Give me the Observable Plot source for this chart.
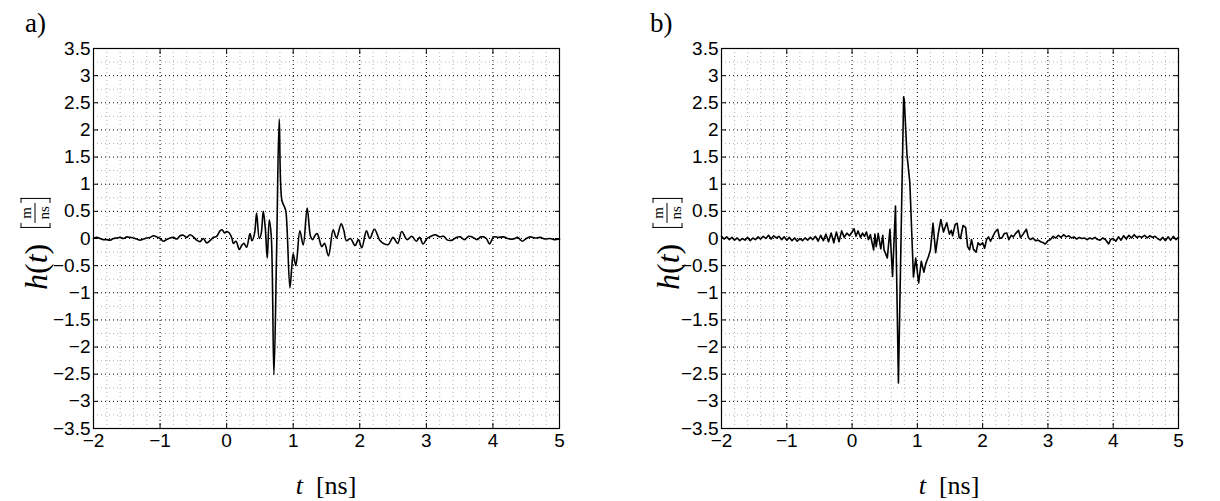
<!DOCTYPE html>
<html><head><meta charset="utf-8">
<script src="https://cdn.jsdelivr.net/npm/d3@7"></script>
<script src="https://cdn.jsdelivr.net/npm/@observablehq/plot@0.6"></script>
<style>
html,body{margin:0;padding:0;background:#fff;}
#wrap{position:relative;width:1220px;height:501px;overflow:hidden;}
.panel{position:absolute;top:0;}
.panel svg text{font-size:19px !important;font-family:"Liberation Sans",Arial,sans-serif !important;fill:#000;}
.plab{position:absolute;top:10px;font-family:"Liberation Serif","Times New Roman",serif;font-size:27px;line-height:1;}
.xlab{position:absolute;top:473px;font-family:"Liberation Serif","Times New Roman",serif;font-size:26px;line-height:1;transform:translate(-50%,0);white-space:nowrap;}
.ylab{position:absolute;font-family:"Liberation Serif","Times New Roman",serif;font-size:32px;line-height:1;white-space:nowrap;transform:translate(-50%,-50%) rotate(-90deg);display:flex;align-items:center;}
.ylab .gap{display:inline-block;width:16px;}
.bl,.brk{display:inline-block;width:4px;height:28px;border-top:1px solid #000;border-bottom:1px solid #000;}
.bl{border-left:1px solid #000;margin-right:2px;}
.brk{border-right:1px solid #000;margin-left:2px;}
.frac{display:inline-flex;flex-direction:column;align-items:center;font-size:15px;line-height:1;}
.frac .num{border-bottom:1px solid #000;padding:0 2px 1px;width:100%;text-align:center;}
.frac .den{padding-top:1px;}
</style>
</head><body>
<div id="wrap"></div>
<script>
// axis ticks and labels
const xTicks = [-2, -1, 0, 1, 2, 3, 4, 5];
const xTickLabels = ["\u22122", "\u22121", "0", "1", "2", "3", "4", "5"];
const yTicks = [-3.5, -3, -2.5, -2, -1.5, -1, -0.5, 0, 0.5, 1, 1.5, 2, 2.5, 3, 3.5];
const yTickLabels = ["\u22123.5", "\u22123", "\u22122.5", "\u22122", "\u22121.5", "\u22121", "\u22120.5", "0", "0.5", "1", "1.5", "2", "2.5", "3", "3.5"];
const xMinor = [-1.8,-1.6,-1.4,-1.2,-0.8,-0.6,-0.4,-0.2,0.2,0.4,0.6,0.8,1.2,1.4,1.6,1.8,2.2,2.4,2.6,2.8,3.2,3.4,3.6,3.8,4.2,4.4,4.6,4.8];
const yMinor = [-3.25,-2.75,-2.25,-1.75,-1.25,-0.75,-0.25,0.25,0.75,1.25,1.75,2.25,2.75,3.25];

// panel a) : t [ns], h(t) [m/ns]
const tA = [-2.00,-1.95,-1.90,-1.85,-1.80,-1.75,-1.70,-1.65,-1.60,-1.55,-1.50,-1.45,-1.40,-1.35,-1.30,-1.25,-1.20,-1.15,-1.10,-1.05,-1.00,-0.95,-0.90,-0.85,-0.80,-0.75,-0.70,-0.65,-0.60,-0.55,-0.50,-0.45,-0.40,-0.35,-0.30,-0.25,-0.20,-0.15,-0.10,-0.07,-0.03,0.00,0.04,0.08,0.10,0.14,0.19,0.23,0.26,0.30,0.35,0.38,0.42,0.45,0.49,0.52,0.55,0.58,0.61,0.64,0.67,0.71,0.75,0.79,0.83,0.87,0.89,0.95,0.98,1.00,1.04,1.10,1.15,1.21,1.26,1.29,1.33,1.36,1.43,1.47,1.53,1.60,1.65,1.72,1.76,1.80,1.86,1.93,1.98,2.03,2.10,2.15,2.22,2.30,2.37,2.43,2.50,2.57,2.63,2.71,2.78,2.85,2.90,2.95,3.01,3.07,3.13,3.20,3.26,3.32,3.39,3.45,3.51,3.57,3.64,3.70,3.76,3.82,3.86,3.90,3.95,4.01,4.08,4.16,4.22,4.31,4.37,4.44,4.50,4.56,4.63,4.71,4.78,4.86,4.92,5.00];
const hA = [0.00,0.02,0.00,-0.02,-0.02,-0.03,0.00,0.01,0.02,0.00,0.03,0.02,0.01,-0.01,-0.03,-0.01,0.01,0.02,0.05,0.03,0.00,-0.05,-0.02,0.01,0.02,-0.01,0.05,0.06,0.02,0.07,0.03,-0.03,-0.06,0.00,-0.08,-0.04,0.02,0.04,0.14,0.16,0.10,0.13,0.10,0.00,-0.09,-0.05,-0.20,-0.12,-0.09,-0.16,0.09,-0.04,0.10,0.47,0.00,0.10,0.50,0.20,-0.36,0.34,0.05,-2.51,-0.28,2.20,0.70,0.58,0.50,-0.91,-0.50,-0.28,-0.50,0.14,-0.12,0.56,0.04,-0.02,0.06,0.09,-0.15,-0.09,-0.32,0.16,0.01,0.27,0.15,-0.04,0.00,-0.13,-0.02,-0.17,0.14,0.00,0.17,-0.03,-0.10,-0.11,0.02,-0.09,0.13,-0.02,0.04,-0.05,0.02,-0.10,0.00,0.04,0.07,0.03,0.04,-0.03,-0.03,0.02,0.03,-0.02,0.04,0.02,-0.02,0.03,0.03,0.00,-0.10,0.03,0.02,0.03,0.00,-0.01,0.02,-0.05,0.00,0.03,0.01,0.02,-0.01,0.00,-0.02,-0.01];

// panel b)
const tB = [-2.00,-1.96,-1.92,-1.88,-1.84,-1.80,-1.76,-1.72,-1.68,-1.64,-1.60,-1.56,-1.52,-1.48,-1.44,-1.40,-1.36,-1.32,-1.28,-1.24,-1.20,-1.16,-1.12,-1.08,-1.04,-1.00,-0.96,-0.92,-0.88,-0.84,-0.80,-0.76,-0.72,-0.68,-0.64,-0.60,-0.56,-0.52,-0.48,-0.44,-0.40,-0.36,-0.32,-0.28,-0.24,-0.20,-0.16,-0.12,-0.08,-0.04,0.00,0.03,0.06,0.09,0.13,0.16,0.19,0.22,0.25,0.28,0.31,0.33,0.35,0.37,0.40,0.42,0.44,0.47,0.49,0.54,0.58,0.62,0.665,0.71,0.75,0.79,0.80,0.84,0.885,0.94,0.975,1.02,1.06,1.10,1.13,1.17,1.20,1.24,1.28,1.32,1.36,1.40,1.45,1.49,1.52,1.54,1.58,1.61,1.64,1.66,1.70,1.74,1.77,1.80,1.83,1.86,1.90,1.93,1.96,2.00,2.03,2.06,2.09,2.12,2.15,2.19,2.23,2.26,2.30,2.33,2.37,2.40,2.44,2.47,2.51,2.55,2.58,2.62,2.67,2.70,2.73,2.77,2.81,2.85,2.89,2.93,2.96,3.00,3.04,3.08,3.12,3.16,3.20,3.24,3.28,3.32,3.36,3.40,3.44,3.48,3.52,3.56,3.60,3.64,3.68,3.72,3.76,3.80,3.84,3.88,3.93,3.96,4.00,4.04,4.08,4.12,4.16,4.20,4.24,4.28,4.32,4.36,4.40,4.44,4.48,4.52,4.56,4.60,4.64,4.68,4.72,4.76,4.80,4.84,4.88,4.92,4.96,5.00];
const hB = [0.04,-0.01,0.03,-0.02,0.02,-0.03,0.01,-0.04,0.00,-0.03,0.02,-0.04,0.01,-0.02,0.03,-0.01,0.04,0.00,0.06,-0.01,0.05,0.01,0.04,-0.02,0.03,-0.03,0.02,-0.04,0.01,-0.05,0.00,-0.04,0.01,-0.03,0.02,-0.02,0.04,-0.05,0.06,-0.04,0.08,-0.06,0.10,-0.08,0.12,-0.06,0.14,0.02,0.10,0.05,0.12,0.18,0.04,0.14,0.02,0.10,0.04,0.12,-0.02,0.07,-0.10,-0.21,0.08,-0.15,0.09,-0.05,-0.19,0.06,-0.21,-0.36,0.17,-0.70,0.60,-2.66,0.00,2.61,2.55,1.56,1.03,-0.71,-0.36,-0.82,-0.42,-0.62,-0.46,-0.33,-0.21,0.28,-0.26,0.09,0.35,0.12,0.29,0.08,0.15,0.05,0.26,0.28,0.02,0.00,0.24,0.20,-0.15,-0.21,-0.02,-0.20,-0.25,-0.08,-0.12,-0.08,-0.18,-0.02,0.03,-0.05,0.02,0.12,0.17,0.00,0.02,0.09,0.10,-0.02,0.06,0.03,0.10,0.15,0.02,0.08,0.17,0.02,-0.02,0.01,-0.04,-0.03,-0.06,-0.08,-0.10,-0.04,-0.02,0.04,0.01,0.06,0.02,0.07,0.03,0.05,0.01,0.03,-0.01,0.02,0.00,0.01,-0.02,0.01,-0.01,0.02,-0.02,-0.03,0.01,-0.02,-0.10,-0.02,0.00,-0.05,0.03,-0.03,0.05,-0.01,0.06,0.01,0.07,0.02,0.04,0.02,0.06,0.01,0.05,0.02,0.04,0.00,-0.03,0.02,-0.04,0.03,-0.03,0.04,-0.02,0.02];

const lab = (ticks, labels) => d => labels[ticks.indexOf(d)];
const dots = "1,3";

function panel(t, h, ml, mr, curve) {
  const data = t.map((d, i) => ({t: d, h: h[i]}));
  return Plot.plot({
    width: 610, height: 501,
    marginLeft: ml, marginRight: mr, marginTop: 48, marginBottom: 73,
    x: {domain: [-2, 5]},
    y: {domain: [-3.5, 3.5]},
    style: {fontFamily: "'Liberation Sans', Arial, sans-serif", fontSize: "19px", color: "#000", background: "transparent", overflow: "visible"},
    marks: [
      Plot.ruleX(xMinor, {stroke: "#b4b4b4", strokeDasharray: dots}),
      Plot.ruleY(yMinor, {stroke: "#b4b4b4", strokeDasharray: dots}),
      Plot.ruleX(xTicks.slice(1, -1), {stroke: "#000", strokeDasharray: dots}),
      Plot.ruleY(yTicks.slice(1, -1), {stroke: "#000", strokeDasharray: dots}),
      Plot.line(data, {x: "t", y: "h", stroke: "#000", strokeWidth: 1.6, strokeLinejoin: "round", curve}),
      Plot.frame({stroke: "#000", strokeWidth: 1.2}),
      Plot.axisX({ticks: xTicks, anchor: "bottom", tickSize: 5, dy: -5, tickFormat: () => "", label: null}),
      Plot.axisX({ticks: xTicks, anchor: "top", tickSize: 5, dy: 5, tickFormat: () => "", label: null}),
      Plot.axisY({ticks: yTicks, anchor: "left", tickSize: 5, dx: 5, tickFormat: () => "", label: null}),
      Plot.axisY({ticks: yTicks, anchor: "right", tickSize: 5, dx: -5, tickFormat: () => "", label: null}),
      Plot.axisX({ticks: xTicks, anchor: "bottom", tickSize: 0, tickPadding: 5, tickFormat: lab(xTicks, xTickLabels), label: null}),
      Plot.axisY({ticks: yTicks, anchor: "left", tickSize: 0, tickPadding: 3, tickFormat: lab(yTicks, yTickLabels), label: null})
    ]
  });
}

const wrap = document.getElementById("wrap");
function addPanel(svg, left) {
  const d = document.createElement("div");
  d.className = "panel";
  d.style.left = left + "px";
  d.appendChild(svg);
  wrap.appendChild(d);
}
addPanel(panel(tA, hA, 93, 51, "catmull-rom"), 0);
addPanel(panel(tB, hB, 111, 42, "linear"), 610);

function addHTML(html) { wrap.insertAdjacentHTML("beforeend", html); }
const ylabHTML = '<span><i>h</i>(<i>t</i>)</span><span class="gap"></span><span class="bl"></span><span class="frac"><span class="num">m</span><span class="den">ns</span></span><span class="brk"></span>';
addHTML('<div class="plab" style="left:25px">a)</div>');
addHTML('<div class="plab" style="left:650px">b)</div>');
addHTML('<div class="xlab" style="left:326px"><i>t</i>&nbsp;&nbsp;[ns]</div>');
addHTML('<div class="xlab" style="left:949px"><i>t</i>&nbsp;&nbsp;[ns]</div>');
addHTML('<div class="ylab" style="left:35px;top:244px">' + ylabHTML + '</div>');
addHTML('<div class="ylab" style="left:667px;top:244px">' + ylabHTML + '</div>');
</script>
</body></html>
